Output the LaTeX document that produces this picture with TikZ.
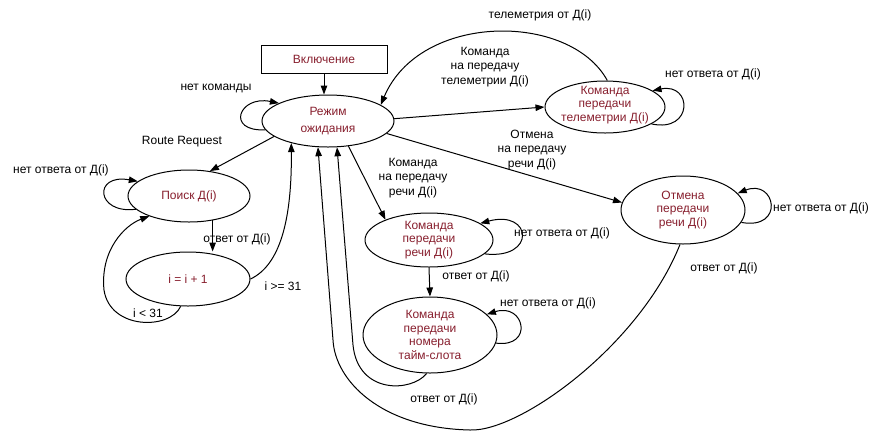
\documentclass[tikz,border=0pt]{standalone}
\usepackage{fontspec}
\setmainfont{Liberation Sans}
\usetikzlibrary{arrows.meta,shapes.geometric}
\definecolor{nodered}{RGB}{135,30,45}
\begin{document}
\begin{tikzpicture}[x=1pt,y=-1pt,
  state/.style={ellipse,draw,line width=1pt,inner sep=0pt},
  intext/.style={align=center,text=nodered,inner sep=0pt,font=\fontsize{12}{13.8}\selectfont},
  lbl/.style={align=center,inner sep=0pt,font=\fontsize{12}{14.3}\selectfont},
  arr/.style={line width=1pt,-{Triangle[length=9pt,width=6.5pt]}},
]
\useasboundingbox (0,0) rectangle (873,432);

% states
\node[draw,line width=1pt,minimum width=126pt,minimum height=28pt,inner sep=0pt,
      text=nodered,font=\fontsize{12}{13.8}\selectfont] (vkl) at (324,59) {Включение};
\node[state,minimum width=132pt,minimum height=52pt,
      label={[intext]center:Режим\\[3pt]ожидания}] (rezhim) at (328,121) {};
\node[state,minimum width=122pt,minimum height=52pt,
      label={[intext]center:Поиск Д(i)}] (poisk) at (189,196) {};
\node[state,minimum width=124pt,minimum height=54pt,
      label={[intext]center:i = i + 1}] (inc) at (188,279) {};
\node[state,minimum width=120pt,minimum height=52pt,
      label={[intext,yshift=2pt]center:Команда\\передачи\\телеметрии Д(i)}] (tele) at (605,107) {};
\node[state,minimum width=124pt,minimum height=68pt,
      label={[intext]center:Отмена\\передачи\\речи Д(i)}] (otm) at (683,210) {};
\node[state,minimum width=128pt,minimum height=54pt,
      label={[intext]center:Команда\\передачи\\речи Д(i)}] (rech) at (429,240) {};
\node[state,minimum width=134pt,minimum height=76pt,
      label={[intext]center:Команда\\передачи\\номера\\тайм-слота}] (slot) at (430,335) {};

% edges
\draw[arr] (vkl.south) -- (vkl.south |- rezhim.north);
\draw[arr] (rezhim.188) .. controls +(-40,2) and +(-40,-8) .. (rezhim.160);
\draw[arr] (rezhim.196) -- (poisk.50);
\draw[arr] (poisk.194) .. controls +(-40,5) and +(-45,-8) .. (poisk.164);
\draw[arr] (poisk.-46) -- (poisk.-46 |- inc.north);
\draw[arr] (inc.255) .. controls (170,330) and (110,330) .. (104,290)
                     .. controls (100,250) and (125,225) .. (poisk.207);
\draw[arr] (inc.east) .. controls (280,265) and (292,220) .. (rezhim.211);
\draw[arr] (otm.265) .. controls (640,345) and (520,432) .. (470,430)
                     .. controls (380,428) and (335,380) .. (333,340) -- (rezhim.249);
\draw[arr] (slot.265) .. controls (412,392) and (358,395) .. (353,345) -- (rezhim.289);
\draw[arr] (rezhim.309) -- (rech.155);
\draw[arr] (rech.-14) .. controls +(52,6) and +(52,-14) .. (rech.18);
\draw[arr] (rech.south) -- (slot.north);
\draw[arr] (slot.-7) .. controls +(38,5) and +(38,-12) .. (slot.20);
\draw[arr] (rezhim.2) -- (tele.180);
\draw[arr] (tele.85) .. controls (570,12) and (420,12) .. (rezhim.17);
\draw[arr] (tele.340) .. controls +(42,9) and +(40,-8) .. (tele.19);
\draw[arr] (rezhim.-12) -- (otm.173);
\draw[arr] (otm.348) .. controls +(44,8) and +(38,-15) .. (otm.17);

% labels
\node[lbl] (l1) at (216,88) {нет команды};
\node[lbl] (l2) at (182,142) {Route Request};
\node[lbl] (l3) at (61,170) {нет ответа от Д(i)};
\node[lbl] (l4) at (237,239) {ответ от Д(i)};
\node[lbl] (l5) at (283,286) {i >= 31};
\node[lbl] (l6) at (148,313) {i < 31};
\node[lbl] (l7) at (540,15) {телеметрия от Д(i)};
\node[lbl] (l8) at (485,67) {Команда\\на передачу\\телеметрии Д(i)};
\node[lbl] (l9) at (713,74) {нет ответа от Д(i)};
\node[lbl] (l10) at (532,150) {Отмена\\на передачу\\речи Д(i)};
\node[lbl] (l11) at (413,178) {Команда\\на передачу\\речи Д(i)};
\node[lbl] (l12) at (821,208) {нет ответа от Д(i)};
\node[lbl] (l13) at (724,268) {ответ от Д(i)};
\node[lbl] (l14) at (562,233) {нет ответа от Д(i)};
\node[lbl] (l15) at (476,276) {ответ от Д(i)};
\node[lbl] (l16) at (548,303) {нет ответа от Д(i)};
\node[lbl] (l17) at (444,399) {ответ от Д(i)};
\end{tikzpicture}
\end{document}
